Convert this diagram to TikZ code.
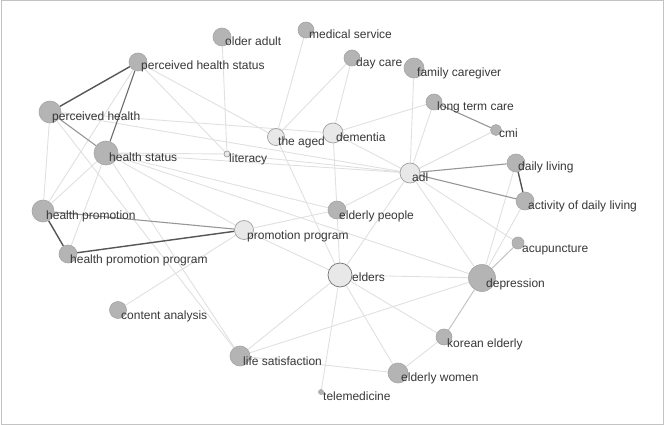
\documentclass[tikz,border=0pt]{standalone}
\usepackage{fontspec}
\setmainfont{Liberation Sans}
\usepackage{tikz}
\usetikzlibrary{backgrounds}
\usepackage{xcolor}
\definecolor{termfill}{RGB}{180,180,180}
\definecolor{termline}{RGB}{165,165,165}
\definecolor{hubfill}{RGB}{232,232,232}
\definecolor{hubline}{RGB}{160,160,160}
\definecolor{edgelite}{RGB}{224,224,224}
\definecolor{edgesoft}{RGB}{195,195,195}
\definecolor{edgemid}{RGB}{150,150,150}
\definecolor{edgedark}{RGB}{85,85,85}
\definecolor{labelcolor}{RGB}{55,55,55}
\definecolor{framecolor}{RGB}{195,195,195}

\begin{document}
\begin{tikzpicture}[
  x=1pt,y=-1pt,
  term/.style={circle,fill=termfill,draw=termline,line width=0.6pt,inner sep=0pt,minimum size=#1},
  hub/.style={circle,fill=hubfill,draw=hubline,line width=0.7pt,inner sep=0pt,minimum size=#1},
  lbl/.style={anchor=base west,inner sep=0pt,text=labelcolor,font=\fontsize{12}{14}\selectfont},
  lite/.style={draw=edgelite,line width=0.9pt},
  soft/.style={draw=edgesoft,line width=1pt},
  mid/.style={draw=edgemid,line width=1.1pt},
  heavy/.style={draw=edgedark,line width=1.4pt}
]
  \useasboundingbox (0,0) rectangle (664,425);
  % keyword nodes
  \node[term=18pt] (phs)  at (138,62)  {};
  \node[term=18pt] (oa)   at (222,37)  {};
  \node[term=16pt] (ms)   at (306,30)  {};
  \node[term=16pt] (dc)   at (352,58)  {};
  \node[term=20pt] (fc)   at (414,68)  {};
  \node[term=16pt] (ltc)  at (434,102) {};
  \node[term=11pt] (cmi)  at (496,130) {};
  \node[term=22pt] (ph)   at (50,112)  {};
  \node[term=24pt] (hs)   at (106,153) {};
  \node[hub=6pt]   (lit)  at (227,154) {};
  \node[hub=17pt]  (aged) at (276,137) {};
  \node[hub=20pt]  (dem)  at (333,133) {};
  \node[hub=20pt]  (adl)  at (410,173) {};
  \node[term=18pt] (dl)   at (516,163) {};
  \node[term=18pt] (actd) at (525,201) {};
  \node[term=22pt] (hp)   at (43,211)  {};
  \node[term=18pt] (hpp)  at (68,254)  {};
  \node[hub=19pt]  (pp)   at (244,230) {};
  \node[term=18pt] (ep)   at (337,210) {};
  \node[hub=24pt,draw=black!55] (eld) at (340,275) {};
  \node[term=17pt] (ca)   at (118,310) {};
  \node[term=27pt] (dep)  at (482,278) {};
  \node[term=12pt] (acu)  at (518,243) {};
  \node[term=16pt] (ke)   at (444,337) {};
  \node[term=20pt] (ls)   at (240,356) {};
  \node[term=20pt] (ew)   at (398,373) {};
  \node[term=5pt]  (tm)   at (321,392) {};

  % labels
  \node[lbl] (phs-l)  at (141,70)  {perceived health status};
  \node[lbl] (oa-l)   at (225,46)  {older adult};
  \node[lbl] (ms-l)   at (309,39)  {medical service};
  \node[lbl] (dc-l)   at (356,67)  {day care};
  \node[lbl] (fc-l)   at (417,77)  {family caregiver};
  \node[lbl] (ltc-l)  at (437,111) {long term care};
  \node[lbl] (cmi-l)  at (499,138) {cmi};
  \node[lbl] (ph-l)   at (52,121)  {perceived health};
  \node[lbl] (hs-l)   at (109,161) {health status};
  \node[lbl] (lit-l)  at (229,162) {literacy};
  \node[lbl] (aged-l) at (278,146) {the aged};
  \node[lbl] (dem-l)  at (336,142) {dementia};
  \node[lbl] (adl-l)  at (412,182) {adl};
  \node[lbl] (dl-l)   at (518,171) {daily living};
  \node[lbl] (actd-l) at (528,209) {activity of daily living};
  \node[lbl] (hp-l)   at (46,219)  {health promotion};
  \node[lbl] (hpp-l)  at (70,263)  {health promotion program};
  \node[lbl] (pp-l)   at (247,239) {promotion program};
  \node[lbl] (ep-l)   at (339,219) {elderly people};
  \node[lbl] (eld-l)  at (352,281) {elders};
  \node[lbl] (ca-l)   at (121,319) {content analysis};
  \node[lbl] (dep-l)  at (486,287) {depression};
  \node[lbl] (acu-l)  at (522,252) {acupuncture};
  \node[lbl] (ke-l)   at (447,347) {korean elderly};
  \node[lbl] (ls-l)   at (243,365) {life satisfaction};
  \node[lbl] (ew-l)   at (401,381) {elderly women};
  \node[lbl] (tm-l)   at (323,400) {telemedicine};

  \begin{scope}[on background layer]
    \draw[framecolor,line width=1pt] (1,1) rectangle (663,424);
    % co-occurrence links
    \draw[lite] (phs)--(lit) (phs)--(hp) (phs)--(aged);
    \draw[lite] (oa)--(lit) (ms)--(aged) (dc)--(aged) (dc)--(dem);
    \draw[lite] (fc)--(adl) (ltc)--(adl) (ltc)--(dem) (cmi)--(adl);
    \draw[lite] (ph)--(hp) (ph)--(dem) (ph)--(adl) (ph)--(ls);
    \draw[lite] (hs)--(lit) (hs)--(adl) (hs)--(ep) (hs)--(dep) (hs)--(ls)
                (hs)--(hp) (hs)--(hpp) (hs)--(pp);
    \draw[lite] (lit)--(adl) (aged)--(eld) (dem)--(ep) (dem)--(adl);
    \draw[lite] (adl)--(ep) (adl)--(eld) (adl)--(dep) (adl)--(acu);
    \draw[lite] (dl)--(dep) (actd)--(dep);
    \draw[lite] (pp)--(ca) (pp)--(ep) (pp)--(eld) (ep)--(eld);
    \draw[lite] (eld)--(dep) (eld)--(ke) (eld)--(ew) (eld)--(ls) (eld)--(tm);
    \draw[lite] (ke)--(ew) (ew)--(ls) (ls)--(dep);
    \draw[soft] (dep)--(ke) (dep)--(acu);
    \draw[mid] (ph)--(hs) (hp)--(pp) (adl)--(dl) (adl)--(actd) (ltc)--(cmi);
    \draw[mid,draw=black!58] (phs)--(hs);
    \draw[heavy] (phs)--(ph) (hp)--(hpp) (hpp)--(pp) (dl)--(actd);
  \end{scope}
\end{tikzpicture}
\end{document}
